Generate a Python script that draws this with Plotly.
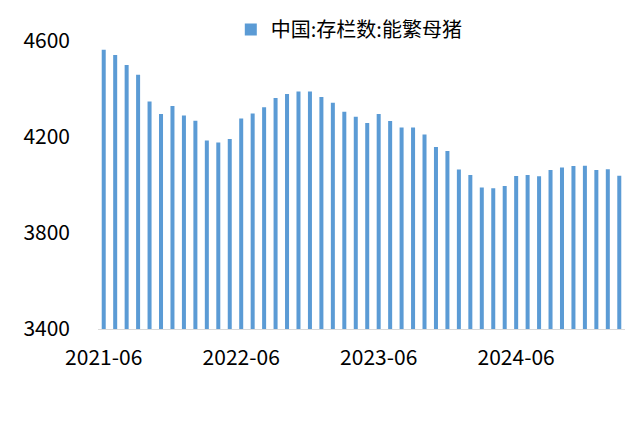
import plotly.graph_objects as go

months = [f"{y}-{m:02d}" for y, m in
          [(2021, m) for m in range(6, 13)] + [(2022, m) for m in range(1, 13)] +
          [(2023, m) for m in range(1, 13)] + [(2024, m) for m in range(1, 13)] +
          [(2025, m) for m in range(1, 4)]]

sows = [4564, 4542, 4500, 4459, 4348, 4296, 4329, 4290, 4268, 4185, 4177, 4192,
        4277, 4298, 4324, 4362, 4379, 4390, 4390, 4367, 4343, 4305, 4284, 4258,
        4296, 4267, 4240, 4240, 4210, 4158, 4142, 4065, 4042, 3990, 3986, 3996,
        4038, 4042, 4036, 4062, 4073, 4079, 4080, 4062, 4066, 4039]

tick_labels = ["2021-06", "2022-06", "2023-06", "2024-06"]
y_ticks = [3400, 3800, 4200, 4600]

font = "Noto Sans CJK SC, Microsoft YaHei, sans-serif"

fig = go.Figure()
fig.add_trace(go.Bar(
    x=months, y=sows, name="中国:存栏数:能繁母猪",
    marker=dict(color="#5B9BD5", line=dict(width=0)),
    showlegend=True,
))

fig.update_layout(
    width=631, height=439,
    margin=dict(l=90, r=14, t=33, b=118, autoexpand=False),
    paper_bgcolor="white", plot_bgcolor="white",
    bargap=0.65,
    font=dict(family=font, size=21, color="#000000"),
    legend=dict(orientation="h", x=0.252, xanchor="left", y=1.108, yanchor="top",
                font=dict(size=20), itemwidth=30, bgcolor="rgba(0,0,0,0)"),
    xaxis=dict(type="category", tickmode="array", tickvals=tick_labels,
               ticktext=tick_labels, showline=True, linecolor="#D9D9D9",
               linewidth=1, ticks="", showgrid=False, range=[-0.5, len(months) - 0.5],
               tickangle=0, tickfont=dict(size=21), ticklabelstandoff=10),
    yaxis=dict(range=[3400, 4600], tickvals=y_ticks, showgrid=False,
               showline=False, zeroline=False, ticks="", tickfont=dict(size=21),
               ticklabelstandoff=27),
)

fig.write_html("out.html")
